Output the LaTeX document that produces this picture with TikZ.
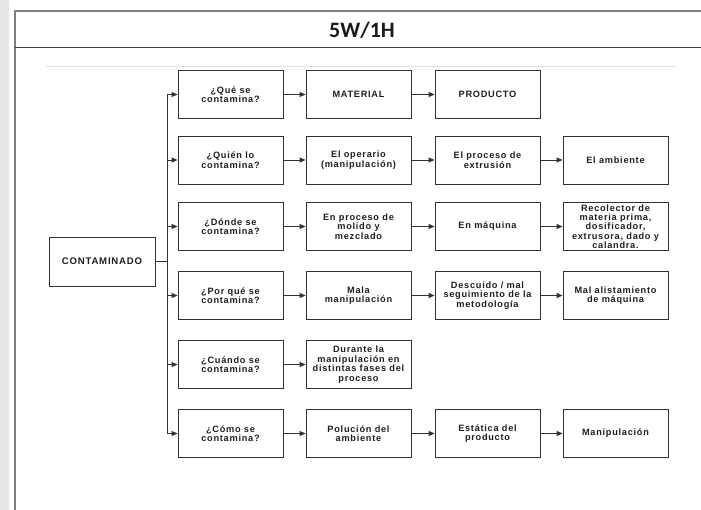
\documentclass[tikz,border=0pt]{standalone}
\usepackage{fontspec}
\setmainfont{Liberation Sans}
\newfontfamily\headfont{Carlito}
\newfontfamily\boxfont[LetterSpace=8]{Liberation Sans Bold}
\usetikzlibrary{arrows.meta}
\definecolor{strip}{HTML}{E6E7E9}
\definecolor{frame}{HTML}{808080}
\definecolor{boxline}{HTML}{333333}
\definecolor{boxtext}{HTML}{1E1E1E}
\tikzset{
  qbox/.style={draw=boxline, line width=0.8pt, minimum width=105pt, minimum height=48pt,
    inner sep=0pt, align=center, text=boxtext, font=\boxfont\fontsize{9.2}{9.6}\selectfont},
  arr/.style={draw=boxline, line width=0.8pt, -{Triangle[length=6pt,width=5pt]}},
}
\begin{document}
\begin{tikzpicture}[x=1pt,y=-1pt]
\useasboundingbox (0,0) rectangle (701,510);
\fill[strip] (0,0) rectangle (9,510);
\draw[frame, line width=1.5pt] (15,510) -- (15,11) -- (701,11);
\draw[black!75, line width=1pt] (15,48) -- (701,48);
\node[font=\headfont\bfseries\fontsize{22}{24}\selectfont, text=black!90] (title) at (362,30) {5W/1H};
\draw[black!12, line width=0.8pt] (46,66) -- (676,66);

% root
\node[qbox, minimum width=106pt, minimum height=49pt, font=\boxfont\fontsize{9.6}{9.6}\selectfont] (root) at (102,261.5) {CONTAMINADO};
\coordinate (j) at (167,261.5);

% row 1
\node[qbox] (q1) at (230.5,94.5) {¿Qué se\\contamina?};
\node[qbox] (a1) at (358.5,94.5) {MATERIAL};
\node[qbox] (b1) at (487.5,94.5) {PRODUCTO};
% row 2
\node[qbox] (q2) at (230.5,160) {¿Quién lo\\contamina?};
\node[qbox] (a2) at (358.5,160) {El operario\\(manipulación)};
\node[qbox] (b2) at (487.5,160) {El proceso de\\extrusión};
\node[qbox] (c2) at (615.5,160) {El ambiente};
% row 3
\node[qbox] (q3) at (230.5,226.5) {¿Dónde se\\contamina?};
\node[qbox] (a3) at (358.5,226.5) {En proceso de\\molido y\\mezclado};
\node[qbox] (b3) at (487.5,226.5) {En máquina};
\node[qbox, font=\boxfont\fontsize{9.2}{9.3}\selectfont] (c3) at (615.5,226.5) {Recolector de\\materia prima,\\dosificador,\\extrusora, dado y\\calandra.};
% row 4
\node[qbox] (q4) at (230.5,295.5) {¿Por qué se\\contamina?};
\node[qbox] (a4) at (358.5,295.5) {Mala\\manipulación};
\node[qbox] (b4) at (487.5,295.5) {Descuido / mal\\seguimiento de la\\metodología};
\node[qbox] (c4) at (615.5,295.5) {Mal alistamiento\\de máquina};
% row 5
\node[qbox] (q5) at (230.5,364.5) {¿Cuándo se\\contamina?};
\node[qbox] (a5) at (358.5,364.5) {Durante la\\manipulación en\\distintas fases del\\proceso};
% row 6
\node[qbox] (q6) at (230.5,433.5) {¿Cómo se\\contamina?};
\node[qbox] (a6) at (358.5,433.5) {Polución del\\ambiente};
\node[qbox] (b6) at (487.5,433.5) {Estática del\\producto};
\node[qbox] (c6) at (615.5,433.5) {Manipulación};

% connectors
\draw[draw=boxline, line width=0.8pt] (root.east) -- (j);
\foreach \q in {q1,q2,q3,q4,q5,q6} {\draw[arr] (j) |- (\q.west);}
\draw[arr] (q1) -- (a1);
\draw[arr] (a1) -- (b1);
\draw[arr] (q2) -- (a2);
\draw[arr] (a2) -- (b2);
\draw[arr] (b2) -- (c2);
\draw[arr] (q3) -- (a3);
\draw[arr] (a3) -- (b3);
\draw[arr] (b3) -- (c3);
\draw[arr] (q4) -- (a4);
\draw[arr] (a4) -- (b4);
\draw[arr] (b4) -- (c4);
\draw[arr] (q5) -- (a5);
\draw[arr] (q6) -- (a6);
\draw[arr] (a6) -- (b6);
\draw[arr] (b6) -- (c6);
\end{tikzpicture}
\end{document}
